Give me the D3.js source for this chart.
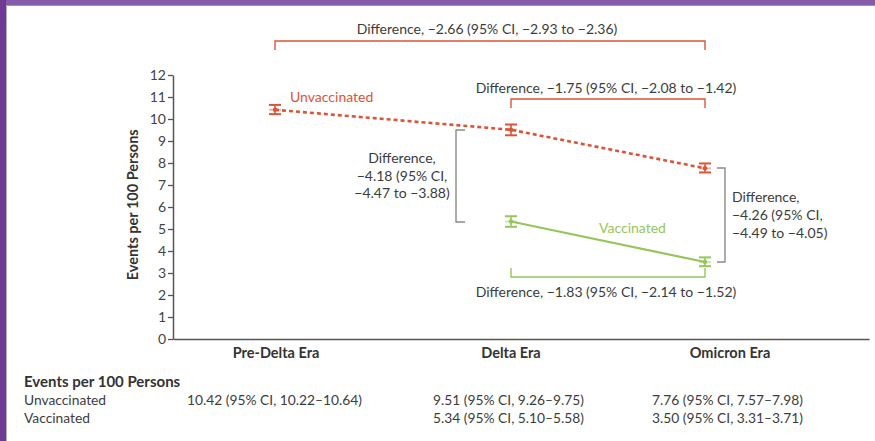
<!DOCTYPE html>
<html>
<head>
<meta charset="utf-8">
<script src="https://cdn.jsdelivr.net/npm/d3@7"></script>
<style>
  html, body { margin: 0; padding: 0; background: #fff; }
  svg { display: block; }
  text { font-family: Lato, "Open Sans", sans-serif; }
</style>
</head>
<body>
<svg id="chart" width="875" height="441"></svg>
<script>
// ---- data ----
const eras = ["Pre-Delta Era", "Delta Era", "Omicron Era"];
const unvaxEras = ["Pre-Delta Era", "Delta Era", "Omicron Era"];
const unvaxValues = [10.42, 9.51, 7.76];
const unvaxLow = [10.22, 9.26, 7.57];
const unvaxHigh = [10.64, 9.75, 7.98];
const vaxEras = ["Delta Era", "Omicron Era"];
const vaxValues = [5.34, 3.50];
const vaxLow = [5.10, 3.31];
const vaxHigh = [5.58, 3.71];
const yTicks = [0, 1, 2, 3, 4, 5, 6, 7, 8, 9, 10, 11, 12];
const yTitle = "Events per 100 Persons";
const tableTitle = "Events per 100 Persons";
const tableRows = ["Unvaccinated", "Vaccinated"];
const unvaxTable = ["10.42 (95% CI, 10.22\u201310.64)", "9.51 (95% CI, 9.26\u20139.75)", "7.76 (95% CI, 7.57\u20137.98)"];
const vaxTable = ["", "5.34 (95% CI, 5.10\u20135.58)", "3.50 (95% CI, 3.31\u20133.71)"];
const diffAllUnvax = "Difference, \u22122.66 (95% CI, \u22122.93 to \u22122.36)";
const diffUnvaxDeltaOmicron = "Difference, \u22121.75 (95% CI, \u22122.08 to \u22121.42)";
const diffVaxDeltaOmicron = "Difference, \u22121.83 (95% CI, \u22122.14 to \u22121.52)";
const diffDeltaLines = ["Difference,", "\u22124.18 (95% CI,", "\u22124.47 to \u22123.88)"];
const diffOmicronLines = ["Difference,", "\u22124.26 (95% CI,", "\u22124.49 to \u22124.05)"];

// ---- layout ----
const RED = "#d9553a", GREEN = "#96c55b", GRAY = "#8a8a8a", AXIS = "#555", TEXT = "#3c3c3c";
const svg = d3.select("#chart");

// frame
svg.append("rect").attr("x", 0).attr("y", 0).attr("width", 875).attr("height", 5).attr("fill", "#855aa8");
svg.append("rect").attr("x", 0).attr("y", 0).attr("width", 6).attr("height", 441).attr("fill", "#6f3a92");
svg.append("line").attr("x1", 6).attr("x2", 875).attr("y1", 5.5).attr("y2", 5.5).attr("stroke", "#9a9a9a").attr("stroke-width", 1);
svg.append("line").attr("x1", 6.5).attr("x2", 6.5).attr("y1", 5).attr("y2", 441).attr("stroke", "#b0b0b0").attr("stroke-width", 1);

const x = d3.scaleOrdinal().domain(eras).range([275, 511, 705]);
const xLabel = d3.scaleOrdinal().domain(eras).range([276, 511, 730]);
const xTable = d3.scaleOrdinal().domain(eras).range([187, 433, 652]);
const y = d3.scaleLinear().domain([0, 12]).range([339, 75]);
const xAxisScale = d3.scaleLinear().domain([0, 1]).range([173, 869]);

function txt(sel, size, color, weight) {
  return sel.style("font-size", size + "px").style("fill", color || TEXT).style("font-weight", weight || "normal");
}

// y axis
const yAxis = svg.append("g").attr("transform", "translate(173,0)")
  .call(d3.axisLeft(y).tickValues(yTicks).tickSize(5).tickSizeOuter(0).tickPadding(2));
yAxis.select(".domain").attr("stroke", AXIS).attr("stroke-width", 1.5);
yAxis.selectAll(".tick line").attr("stroke", AXIS).attr("stroke-width", 1.3);
txt(yAxis.selectAll(".tick text").style("font-family", "Lato, sans-serif"), 14, "#444");

// x axis line
const xAxis = svg.append("g").attr("transform", "translate(0,339)")
  .call(d3.axisBottom(xAxisScale).tickValues([]).tickSizeOuter(0));
xAxis.select(".domain").attr("stroke", AXIS).attr("stroke-width", 1.5);

// category labels
txt(svg.selectAll(".era").data(eras).enter().append("text")
  .attr("x", d => xLabel(d)).attr("y", 358)
  .attr("text-anchor", "middle").text(d => d), 14.5, "#333", "bold");

// y title
txt(svg.append("text").attr("transform", `translate(138,${y(6.1)}) rotate(-90)`)
  .attr("text-anchor", "middle").text(yTitle), 14.5, "#333", "bold");

// ---- series ----
const unvax = unvaxEras.map((e, i) => ({ era: e, v: unvaxValues[i], lo: unvaxLow[i], hi: unvaxHigh[i] }));
const vax = vaxEras.map((e, i) => ({ era: e, v: vaxValues[i], lo: vaxLow[i], hi: vaxHigh[i] }));
const line = d3.line().x(d => x(d.era)).y(d => y(d.v));

svg.append("path").datum(unvax).attr("d", line).attr("fill", "none")
  .attr("stroke", RED).attr("stroke-width", 2.6).attr("stroke-dasharray", "4,3");
svg.append("path").datum(vax).attr("d", line).attr("fill", "none")
  .attr("stroke", GREEN).attr("stroke-width", 2.2);

function errorBars(data, color) {
  const g = svg.append("g");
  data.forEach(d => {
    const cx = x(d.era);
    g.append("line").attr("x1", cx).attr("x2", cx).attr("y1", y(d.lo)).attr("y2", y(d.hi)).attr("stroke", color).attr("stroke-width", 1.6);
    [d.lo, d.hi].forEach(v => g.append("line").attr("x1", cx - 6).attr("x2", cx + 6).attr("y1", y(v)).attr("y2", y(v)).attr("stroke", color).attr("stroke-width", 2));
    g.append("rect").attr("x", cx - 6).attr("y", y(d.v) - 1).attr("width", 12).attr("height", 2).attr("fill", color).attr("opacity", 0.45);
    g.append("circle").attr("cx", cx).attr("cy", y(d.v)).attr("r", 2.2).attr("fill", color);
  });
}
errorBars(unvax, RED);
errorBars(vax, GREEN);

// series labels
txt(svg.append("text").attr("x", 290).attr("y", 102).text("Unvaccinated"), 14, RED);
txt(svg.append("text").attr("x", 599).attr("y", 233).text("Vaccinated"), 14, GREEN);

// ---- annotations ----
function hBracket(x1, x2, yLine, yEnd, color) {
  svg.append("path")
    .attr("d", `M${x1},${yEnd}V${yLine}H${x2}V${yEnd}`)
    .attr("fill", "none").attr("stroke", color).attr("stroke-width", 1.4);
}
function vBracket(xLine, xEnd, y1, y2, color) {
  svg.append("path")
    .attr("d", `M${xEnd},${y1}H${xLine}V${y2}H${xEnd}`)
    .attr("fill", "none").attr("stroke", color).attr("stroke-width", 1.4);
}

// top: pre-delta vs omicron (unvaccinated)
hBracket(x("Pre-Delta Era"), x("Omicron Era"), 41, 50, RED);
txt(svg.append("text").attr("x", 487).attr("y", 34).attr("text-anchor", "middle").text(diffAllUnvax), 14);

// delta vs omicron (unvaccinated)
hBracket(x("Delta Era"), x("Omicron Era"), 99, 108, RED);
txt(svg.append("text").attr("x", 606).attr("y", 93).attr("text-anchor", "middle").text(diffUnvaxDeltaOmicron), 14);

// delta vs omicron (vaccinated)
hBracket(x("Delta Era"), x("Omicron Era"), 277, 268, GREEN);
txt(svg.append("text").attr("x", 606).attr("y", 297).attr("text-anchor", "middle").text(diffVaxDeltaOmicron), 14);

// delta era: unvaccinated vs vaccinated
vBracket(456, 465, 130, 222, GRAY);
txt(svg.append("g").selectAll("text").data(diffDeltaLines).enter().append("text")
  .attr("x", 402).attr("y", (d, i) => 163 + i * 17.5).attr("text-anchor", "middle")
  .text(d => d), 14);

// omicron era: unvaccinated vs vaccinated
vBracket(725, 717, 168, 262, GRAY);
txt(svg.append("g").selectAll("text").data(diffOmicronLines).enter().append("text")
  .attr("x", 732).attr("y", (d, i) => 202 + i * 18)
  .text(d => d), 14);

// ---- table ----
txt(svg.append("text").attr("x", 24).attr("y", 387).text(tableTitle), 15, "#333", "bold");
txt(svg.selectAll(".rowlabel").data(tableRows).enter().append("text")
  .attr("x", 24).attr("y", (d, i) => 405 + i * 17.5).text(d => d), 13.8);
[unvaxTable, vaxTable].forEach((row, r) => {
  txt(svg.append("g").selectAll("text").data(row).enter().append("text")
    .attr("x", (d, i) => xTable(eras[i])).attr("y", 405 + r * 17.5)
    .text(d => d), 13.8);
});
</script>
</body>
</html>
